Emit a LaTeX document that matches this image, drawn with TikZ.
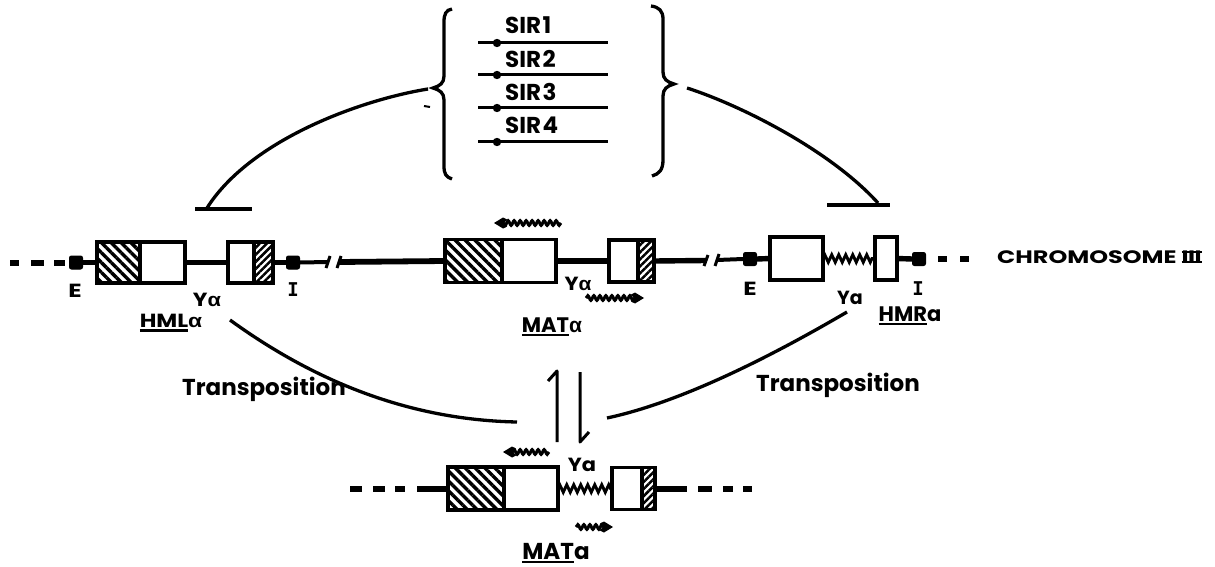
\documentclass[tikz,border=0pt]{standalone}
\usepackage{fontspec}
\setmainfont{Poppins}
\newfontfamily\grk{Liberation Sans}
\newfontfamily\monof{DejaVu Sans Mono}
\usetikzlibrary{decorations.pathmorphing,patterns.meta,arrows.meta,calc}
\newcommand\myul[1]{\setbox0\hbox{#1}\rlap{\raisebox{-4pt}{\rule{\wd0}{2.2pt}}}\box0}
\newcommand\alp{{\grk\bfseries α}}
\newcommand\romthree{\setbox1\hbox{I\kern-0.5pt I\kern-0.5pt I}\rlap{\rule[\dimexpr\ht1-2pt\relax]{\wd1}{2pt}}\rlap{\rule{\wd1}{2pt}}\box1}
\newcommand\wide[2]{\scalebox{#1}[1]{#2}}
\tikzset{
  chrom/.style={line width=5.4pt},
  thinchrom/.style={line width=4pt},
  seg/.style={draw, line width=3.2pt, rectangle, inner sep=0pt, outer sep=0pt, minimum height=41pt},
  hatchA/.style={pattern={Lines[angle=-45,distance=7pt,line width=3.4pt]}},
  hatchB/.style={pattern={Lines[angle=45,distance=5pt,line width=2.5pt]}},
  blk/.style={fill, draw, line width=1pt, rounded corners=2pt, minimum size=13pt, inner sep=0pt},
  lab/.style={inner sep=0pt, font=\fontsize{19}{19}\selectfont\bfseries},
  biglab/.style={inner sep=0pt, font=\fontsize{21}{21}\selectfont\bfseries},
  hugelab/.style={inner sep=0pt, font=\fontsize{23}{23}\selectfont\bfseries},
  ilab/.style={inner sep=0pt, font=\fontsize{19}{19}\selectfont\monof\bfseries},
  zz/.style={line width=2.9pt, decorate, decoration={zigzag, segment length=7pt, amplitude=3.8pt}},
  wavybody/.style={line width=3pt, decorate, decoration={snake, segment length=6pt, amplitude=2.4pt}},
  curve/.style={line width=3.3pt},
  brk/.style={line width=3pt},
}
% #1 start, #2 tip, #3 direction (1 right, -1 left)
\newcommand\wvarrow[3]{\draw[wavybody] (#1) -- ($(#2)+(-9*#3,0)$);
  \fill ($(#2)$) -- ($(#2)+(-9*#3,-5.5)$) -- ($(#2)+(-13*#3,-3.5)$) -- ($(#2)+(-10*#3,0)$)
     -- ($(#2)+(-13*#3,3.5)$) -- ($(#2)+(-9*#3,5.5)$) -- cycle;}
\begin{document}
\begin{tikzpicture}[x=1pt,y=-1pt]
\useasboundingbox (0,0) rectangle (1215,567);
\fill[white] (0,0) rectangle (1215,567);

% ---------- SIR bracket ----------
\draw[curve] (452,9) .. controls (446,10) and (444,14) .. (444,22) -- (444,76)
  .. controls (444,83) and (440,86) .. (433,88) .. controls (440,90) and (444,93) .. (444,100)
  -- (444,166) .. controls (444,174) and (446,177) .. (452,179);
\draw[curve] (651,6) .. controls (659,7) and (663,11) .. (663,19) -- (663,72)
  .. controls (663,79) and (667,82) .. (674,84) .. controls (667,86) and (663,89) .. (663,96)
  -- (663,160) .. controls (663,170) and (659,174) .. (652,176);
\foreach \yy/\nm/\ty in {43/1/25,75/2/59,108/3/92,142/4/125}{
  \draw[line width=3pt] (478,\yy) -- (608,\yy);
  \fill (497,\yy) circle (4.2pt);
  \node[hugelab, anchor=west] (sir\nm) at (505,\ty) {SIR\kern1.5pt\nm};
}
\draw[line width=2pt] (424,106) -- (430,107);

% inhibition curves
\coordinate (lbs) at (428,89);
\coordinate (lbe) at (207,208);
\coordinate (tl1) at (195,209);
\coordinate (tl2) at (252,209);
\draw[curve] (lbs) .. controls (360,100) and (250,140) .. (lbe);
\draw[curve] (tl1) -- (tl2);
\coordinate (rbs) at (687,88);
\coordinate (rbe) at (878,203);
\coordinate (tr1) at (827,205);
\coordinate (tr2) at (890,205);
\draw[curve] (rbs) .. controls (740,105) and (830,150) .. (rbe);
\draw[curve] (tr1) -- (tr2);

% ---------- HML ----------
\node[blk] (hmlE) at (76,262.5) {};
\node[seg, hatchA, minimum width=43pt] (hmlX) at (118.5,262.5) {};
\node[seg, minimum width=45pt] (hmlY) at (162.5,262.5) {};
\node[seg, minimum width=26pt] (hmlZ) at (241,262.5) {};
\node[seg, hatchB, minimum width=19pt] (hmlW) at (263.5,262.5) {};
\node[blk] (hmlI) at (293,262.5) {};
\coordinate (chL) at (10,262.5);
\draw[line width=6pt, dash pattern=on 9pt off 12pt on 13pt off 10pt on 11pt off 20pt] (chL) -- (hmlE.west);
\draw[chrom] (hmlE.east) -- (hmlX.west);
\draw[chrom] (hmlY.east) -- (hmlZ.west);
\draw[chrom] (hmlW.east) -- (hmlI.west);
\coordinate (b1a) at (328,262);
\coordinate (b1b) at (339,262);
\draw[thinchrom] (hmlI.east) -- (b1a);
\draw[brk] (326,268) -- (330,256);
\draw[brk] (337,268) -- (341,256);

% ---------- MAT alpha ----------
\node[seg, hatchA, minimum width=57pt, minimum height=43pt] (matX) at (473.5,261) {};
\node[seg, minimum width=54pt, minimum height=43pt] (matY) at (529,261) {};
\node[seg, minimum width=29pt, minimum height=42pt] (matZ) at (623.5,261) {};
\node[seg, hatchB, minimum width=16pt, minimum height=42pt] (matW) at (646,261) {};
\draw[line width=5.8pt] (b1b) -- (matX.west);
\draw[chrom] (matY.east) -- (matZ.west);
\coordinate (b2a) at (706,260.5);
\coordinate (b2b) at (717,260);
\draw[chrom] (matW.east) -- (b2a);
\draw[brk] (704,266) -- (708,255);
\draw[brk] (715,266) -- (719,254);
\coordinate (wa1) at (561,223); \coordinate (wa2) at (494,223);
\wvarrow{wa1}{wa2}{-1}
\coordinate (wb1) at (586,298); \coordinate (wb2) at (644,298);
\wvarrow{wb1}{wb2}{1}

% ---------- HMRa ----------
\node[blk] (hmrE) at (750,259) {};
\node[seg, minimum width=53pt, minimum height=43pt] (hmrY) at (796.5,258.5) {};
\node[seg, minimum width=22pt, minimum height=43pt] (hmrW) at (886,258.5) {};
\node[blk] (hmrI) at (919,259) {};
\draw[thinchrom] (b2b) -- (hmrE.west);
\draw[chrom] (hmrE.east) -- (hmrY.west);
\draw[zz] (hmrY.east) -- (hmrW.west);
\draw[chrom] (hmrW.east) -- (hmrI.west);
\coordinate (chR0) at (938,259);
\coordinate (chR) at (970,259);
\draw[line width=6pt, dash pattern=on 9pt off 13pt on 9pt off 10pt] (chR0) -- (chR);
\node[anchor=west, inner sep=0pt, font=\fontsize{18}{18}\selectfont\bfseries] (chrom) at (997,257) {\wide{1.33}{CHROMOSOME \romthree}};

% ---------- labels row 1 ----------
\node[lab] (lE1) at (75,291) {\wide{1.3}{E}};
\node[ilab] (lI1) at (293,290) {I};
\node[lab] (lY1) at (207,300) {\wide{1.15}{Y\alp}};
\node[lab] (lHML) at (171,323) {\wide{1.2}{\myul{HML}\alp}};
\node[lab] (lY2) at (578,284) {\wide{1.1}{Y\alp}};
\node[biglab] (lMATa) at (552,327) {\myul{MAT}\alp};
\node[lab] (lE2) at (750,289) {\wide{1.3}{E}};
\node[ilab] (lI2) at (918,289) {I};
\node[lab] (lY3) at (850,298) {Ya};
\node[biglab] (lHMR) at (910,316) {\myul{HMR}a};

% ---------- transposition ----------
\coordinate (t1s) at (230,320); \coordinate (t1e) at (517,422);
\draw[curve] (t1s) .. controls (321,386) and (416,420) .. (t1e);
\coordinate (t2s) at (847,312); \coordinate (t2e) at (607,418);
\draw[curve] (t2s) .. controls (748,370) and (668,405) .. (t2e);
\node[hugelab] (tr1) at (264,389) {Transposition};
\node[hugelab] (tr2) at (838,385) {Transposition};

% reversible arrows
\coordinate (u1) at (557,442); \coordinate (u2) at (557,371); \coordinate (u3) at (548,381);
\draw[line width=3pt, line join=round] (u1) -- (u2) -- (u3);
\coordinate (d1) at (580,372); \coordinate (d2) at (580,442); \coordinate (d3) at (589,432);
\draw[line width=3pt, line join=round] (d1) -- (d2) -- (d3);

% ---------- MATa ----------
\node[seg, hatchA, minimum width=56pt, minimum height=43pt] (bX) at (476,488.5) {};
\node[seg, minimum width=54pt, minimum height=43pt] (bY) at (531,488.5) {};
\node[seg, minimum width=30pt, minimum height=42pt] (bZ) at (627,488.5) {};
\node[seg, hatchB, minimum width=13pt, minimum height=42pt] (bW) at (648.5,488.5) {};
\coordinate (bL) at (350,488.5);
\coordinate (bR) at (752,488.5);
\draw[line width=6pt, dash pattern=on 12pt off 11pt on 12pt off 10pt on 10pt off 12pt on 40pt] (bL) -- (bX.west);
\draw[zz] (bY.east) -- (bZ.west);
\draw[line width=6pt, dash pattern=on 32pt off 11pt on 14pt off 11pt on 10pt off 10pt on 9pt] (bW.east) -- (bR);
\coordinate (wc1) at (549,452); \coordinate (wc2) at (503,452);
\wvarrow{wc1}{wc2}{-1}
\coordinate (wd1) at (576,527); \coordinate (wd2) at (613,527);
\wvarrow{wd1}{wd2}{1}
\node[lab] (lY4) at (582,465) {\wide{1.1}{Ya}};
\node[hugelab] (lMATb) at (556,553) {\myul{MAT}a};
\end{tikzpicture}
\end{document}
